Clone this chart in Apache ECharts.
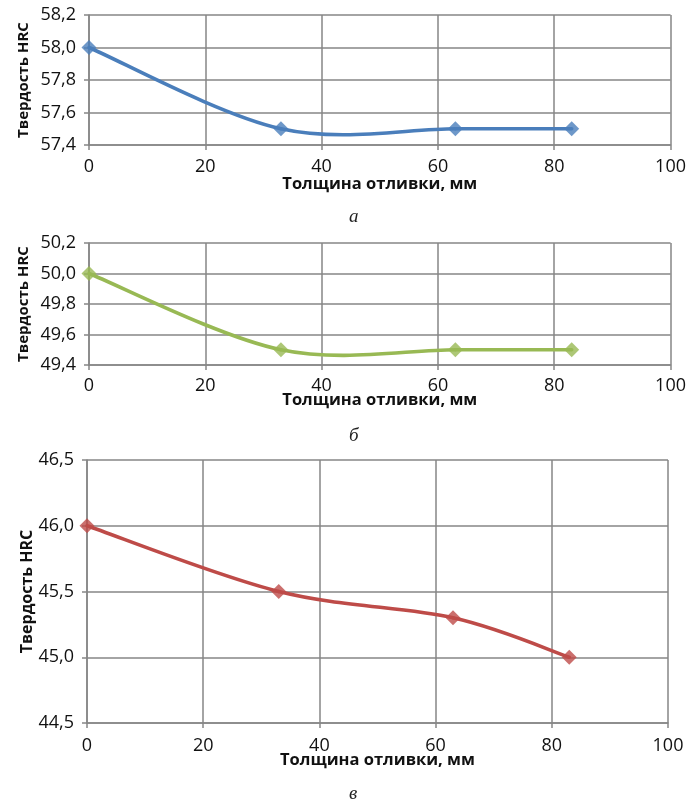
<!DOCTYPE html>
<html><head><meta charset="utf-8">
<script src="https://cdn.jsdelivr.net/npm/echarts@6/dist/echarts.min.js"></script>
<style>html,body{margin:0;padding:0;background:#fff}#c{width:689px;height:800px}</style>
</head><body><div id="c"></div>
<script>
const thickness = [0, 33, 63, 83];
const hardnessA = [58.0, 57.5, 57.5, 57.5];
const hardnessB = [50.0, 49.5, 49.5, 49.5];
const hardnessC = [46.0, 45.5, 45.3, 45.0];
const xTitle = 'Толщина отливки, мм';
const yTitle = 'Твердость HRC';
const captions = ['а', 'б', 'в'];
const colors = ['#4A7EBB', '#98B954', '#BE4B48'];

const font = 'Open Sans';
const gridColor = '#868686';
const grids = [
  {left: 89, right: 17, top: 15, height: 130},
  {left: 89, right: 17, top: 243, height: 122},
  {left: 87, right: 21, top: 460, height: 263}
];
const yRanges = [[57.4, 58.2, 0.2], [49.4, 50.2, 0.2], [44.5, 46.5, 0.5]];
const yNameGaps = [58, 58, 52];
const yNameSizes = [15, 15, 16];
const xNameGaps = [31, 27, 29];
const xLabelMargins = [13, 12, 14];
const series = [hardnessA, hardnessB, hardnessC];

// smooth curve (Catmull-Rom style, like a spreadsheet "smoothed line"), drawn through axis coords
function makeRender(xs, ys, color) {
  return function (params, api) {
    const i = params.dataIndex;
    const n = xs.length;
    if (i >= n - 1) return null;
    const P = k => { k = Math.max(0, Math.min(n - 1, k)); return api.coord([xs[k], ys[k]]); };
    const p0 = P(i - 1), p1 = P(i), p2 = P(i + 1), p3 = P(i + 2);
    const c1 = [p1[0] + (p2[0] - p0[0]) / 6, p1[1] + (p2[1] - p0[1]) / 6];
    const c2 = [p2[0] - (p3[0] - p1[0]) / 6, p2[1] - (p3[1] - p1[1]) / 6];
    return {
      type: 'bezierCurve',
      shape: {x1: p1[0], y1: p1[1], x2: p2[0], y2: p2[1], cpx1: c1[0], cpy1: c1[1], cpx2: c2[0], cpy2: c2[1]},
      style: {stroke: color, lineWidth: 3.6, fill: null, lineCap: 'round'}
    };
  };
}

const option = {
  animation: false,
  backgroundColor: '#fff',
  title: captions.map((t, i) => ({
    text: t, left: 344, top: [202, 421, 779][i],
    textStyle: {fontFamily: 'Liberation Serif', fontStyle: 'italic', fontWeight: 'normal', fontSize: 19, color: '#222'}
  })),
  grid: grids,
  xAxis: grids.map((g, i) => ({
    gridIndex: i, type: 'value', min: 0, max: 100, interval: 20,
    name: xTitle, nameLocation: 'middle', nameGap: xNameGaps[i], nameMoveOverlap: false,
    nameTextStyle: {fontFamily: font, fontWeight: 'bold', fontSize: 16.5, color: '#111'},
    axisLine: {show: true, lineStyle: {color: gridColor, width: 1.5}},
    axisTick: {show: true, length: 5, lineStyle: {color: gridColor, width: 1.5}},
    axisLabel: {fontFamily: font, fontSize: 18, color: '#111', margin: xLabelMargins[i]},
    splitLine: {show: true, lineStyle: {color: gridColor, width: 1.5}}
  })),
  yAxis: grids.map((g, i) => ({
    gridIndex: i, type: 'value', min: yRanges[i][0], max: yRanges[i][1], interval: yRanges[i][2],
    name: yTitle, nameLocation: 'middle', nameGap: yNameGaps[i], nameRotate: 90, nameMoveOverlap: false,
    nameTextStyle: {fontFamily: font, fontWeight: 'bold', fontSize: yNameSizes[i], color: '#111'},
    axisLine: {show: true, lineStyle: {color: gridColor, width: 1.5}},
    axisTick: {show: true, length: 5, lineStyle: {color: gridColor, width: 1.5}},
    axisLabel: {fontFamily: font, fontSize: 18, color: '#111', margin: 13,
      formatter: v => v.toFixed(1).replace('.', ',')},
    splitLine: {show: true, lineStyle: {color: gridColor, width: 1.5}}
  })),
  series: [].concat(
    series.map((arr, i) => ({
      type: 'custom', xAxisIndex: i, yAxisIndex: i, z: 2,
      data: thickness.map((x, k) => [x, arr[k]]),
      encode: {x: 0, y: 1},
      renderItem: makeRender(thickness, arr, colors[i])
    })),
    series.map((arr, i) => ({
      type: 'scatter', xAxisIndex: i, yAxisIndex: i, z: 3,
      data: thickness.map((x, k) => [x, arr[k]]),
      symbol: 'diamond', symbolSize: 15,
      itemStyle: {color: colors[i]}
    }))
  )
};
echarts.init(document.getElementById('c'), null, {renderer: 'canvas'}).setOption(option);
</script></body></html>
